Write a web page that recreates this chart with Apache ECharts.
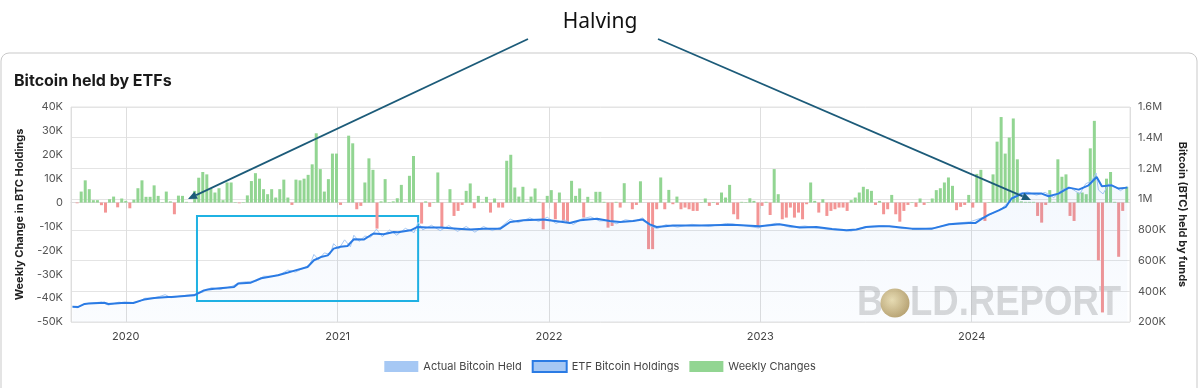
<!DOCTYPE html>
<html><head><meta charset="utf-8">
<script src="https://cdn.jsdelivr.net/npm/echarts@6/dist/echarts.min.js"></script>
<style>html,body{margin:0;padding:0;background:#fff}#c{width:1200px;height:388px}</style>
</head><body><div id="c"></div>
<script>
// ---------------- DATA ----------------
const axisStart = '2019-10-01';
const axisEnd = '2024-09-28';
const firstWeek = '2019-10-09';           // date of first weekly bar
const yearTicks = ['2020', '2021', '2022', '2023', '2024'];

// Weekly change in BTC holdings (BTC), one value per week
const weeklyChange = [
  -300, 4600, 9300, 5600, 1000, 1000, -1100, -4200, 1400, 2500,
  -2000, 1700, 700, -2400, 1200, 6000, 9300, 2400, 2400, 7200,
  2800, 200, 4600, 500, -4900, 2900, 2800, 300, 0, 4900,
  10400, 12800, 11800, 6000, 4200, 6000, 1000, 8400, 8400, 200,
  -300, 200, 3000, 9000, 12300, 10000, 5600, 3500, 5600, 2100,
  5600, 9600, 2100, -1000, 9600, 9300, 10000, 11600, 16000, 29000,
  14000, 4600, 9800, 20500, 20500,
  -1000, 0, 28000, 24800, -2800, -1400, 8400, 18500, 13700, -10900,
  500, 9800, 200, 500, 1800, 7400, 200, 11200, 19500, 0,
  -8800, 500, -1800, 200, 12600, -10500, 0, 5600, -5600, -3500,
  -1000, 4900, 8000, -2400, 2800, 300, 2400, -4200, 1700, -2100,
  -2100, 17500, 20000, 6300, 2500, 6600, 300, 2500, 5900, 300,
  -11200, 2800, 5200, -7000, 4200, -7700, -8400, 9100, 2800, 5900,
  -6300, 2400, 300, 4500, 4500,
  300, -10500, -9800, 300, -2100, 8100, 0, -2800, -1000, 8900,
  0, -19500, -19500, -2800, 10500, -2800, 5300, -700, 2500, -2800,
  -2100, -2800, -3500, -3500, 200, 1700, -1400, 200, -1000, 4200,
  2100, 7400, -4900, -7000, 300, 200, 1800, 700, -10500, -1400,
  300, -5200, 14000, 3500, -7000, -6300, -2100, -6300, -4200, -7000,
  -700, 8400, 700, -4200, 1400, -5600, -3500, -2800, -2100, -2100,
  -3500, 1000, 2100, 4200, 6600, 5600, 4900, -1000,
  700, -4900, -2800, 3200, -4900, -8000, -3500, -1000, 200, -1800,
  1700, -1000, 200, 1700, 5200, 6000, 8400, 10500, 7000, -3200,
  -1800, -1000, 3200, -2100, 12000, 13700, -7700, 200, 11800, 25500,
  35800, 20500, 27200, 35200, 18100, 500, 300, 300, 300, -5600,
  -8400, -1000, 5200, 300, 18100, 10800, 11800, -5600, -7700, 4200,
  4200, 3500, 22700, 34200, -24200, -46000, 10000, 12800, 300, -22700,
  -3500, 6600
];

// ETF Bitcoin holdings (BTC); x = days after axisStart
const holdDay = [
  0, 10, 21, 28, 55, 62, 90, 105, 119, 124, 141, 165, 171, 210, 227, 234, 245, 279, 286, 308,
  326, 355, 372, 382, 406, 417, 429, 441, 451, 463, 475, 486, 503, 515, 520, 537, 555, 562, 584, 596,
  613, 636, 665, 687, 710, 739, 756, 779, 813, 847, 859, 877, 906, 928, 946, 968, 985, 997, 1009, 1037,
  1083, 1140, 1187, 1221, 1256, 1285, 1312, 1337, 1354, 1371, 1393, 1411, 1450, 1485, 1514, 1548, 1560, 1571, 1583, 1600,
  1612, 1622, 1640, 1664, 1674, 1686, 1703, 1721, 1738, 1755, 1769, 1778, 1795, 1807, 1822
];
const holdValue = [
  300000, 298000, 318000, 320000, 325000, 317000, 326000, 324000, 341000, 346000, 356000, 363000, 363000, 374000, 406000, 411000, 417000, 428000, 450000, 456000,
  485000, 504000, 522000, 533000, 558000, 602000, 623000, 634000, 678000, 690000, 695000, 739000, 737000, 765000, 776000, 771000, 786000, 784000, 797000, 819000,
  815000, 815000, 808000, 802000, 808000, 808000, 851000, 862000, 867000, 851000, 845000, 862000, 873000, 858000, 851000, 858000, 867000, 836000, 819000, 828000,
  828000, 834000, 823000, 836000, 815000, 819000, 806000, 797000, 802000, 819000, 823000, 823000, 808000, 808000, 836000, 845000, 845000, 873000, 899000, 927000,
  949000, 1004000, 1036000, 1036000, 1036000, 1019000, 1036000, 1075000, 1062000, 1090000, 1144000, 1084000, 1090000, 1069000, 1075000
];

// Actual Bitcoin held (BTC, noisy daily readings); x = days after axisStart
const actualDay = [
  0, 8, 20, 35, 50, 62, 80, 100, 118, 125, 140, 150, 160, 170, 185, 200, 212, 226, 240, 255,
  275, 290, 300, 318, 330, 345, 360, 372, 385, 398, 410, 417, 425, 435, 445, 451, 460, 470, 480, 486,
  495, 505, 515, 525, 535, 548, 560, 575, 590, 597, 605, 620, 635, 650, 665, 680, 695, 710, 725, 740,
  756, 770, 790, 805, 820, 835, 850, 865, 880, 895, 910, 925, 940, 955, 970, 985, 997, 1010, 1025, 1045,
  1070, 1100, 1130, 1160, 1185, 1195, 1215, 1240, 1265, 1290, 1320, 1345, 1370, 1400, 1430, 1460, 1490, 1520, 1550, 1575,
  1590, 1605, 1618, 1630, 1650, 1665, 1680, 1695, 1710, 1725, 1740, 1750, 1760, 1768, 1772, 1780, 1790, 1800, 1810, 1822
];
const actualValue = [
  302000, 292000, 318000, 324000, 330000, 310000, 329000, 320000, 338000, 355000, 356000, 366000, 378000, 358000, 368000, 376000, 380000, 396000, 424000, 412000,
  432000, 458000, 462000, 468000, 498000, 498000, 512000, 538000, 525000, 548000, 572000, 640000, 606000, 650000, 640000, 710000, 676000, 735000, 690000, 765000,
  725000, 760000, 752000, 805000, 755000, 800000, 765000, 810000, 782000, 850000, 800000, 830000, 795000, 828000, 790000, 822000, 785000, 822000, 795000, 818000,
  870000, 848000, 878000, 855000, 882000, 842000, 865000, 835000, 872000, 885000, 858000, 860000, 840000, 866000, 856000, 878000, 826000, 808000, 834000, 818000,
  836000, 822000, 842000, 828000, 812000, 828000, 843000, 816000, 825000, 810000, 798000, 792000, 822000, 828000, 810000, 803000, 815000, 842000, 852000, 884000,
  908000, 940000, 985000, 1035000, 1046000, 1026000, 1044000, 1010000, 1066000, 1070000, 1034000, 1100000, 1118000, 1170000, 1060000, 1034000, 1100000, 1082000, 1055000, 1083000
];

// Highlighted period (cyan box): dates and holdings range
const boxStart = '2020-05-03', boxEnd = '2021-05-20';
const boxTop = 890000, boxBottom = 337000;

// ---------------- CHART ----------------
const DAY = 86400000;
const ts = s => Date.parse(s + 'T00:00:00Z');
const t0 = ts(axisStart);
const w0 = ts(firstWeek);
const GREEN = '#92d592', RED = '#f39595', BLUE = '#2b7be4', LIGHT = '#a6c8f4';

const barData = weeklyChange.map((v, i) => [w0 + i * 7 * DAY, v]);
const holdData = holdDay.map((d, i) => [t0 + d * DAY, holdValue[i]]);
const actualData = actualDay.map((d, i) => [t0 + d * DAY, actualValue[i]]);

const fmtK = v => v === 0 ? '0' : (v / 1000) + 'K';
const fmtR = v => v >= 1000000 ? (v / 1000000) + 'M' : (v / 1000) + 'K';
const FONT = 'Inter, "Noto Sans", sans-serif';

function arrow(x1, y1, x2, y2) {
  const ang = Math.atan2(y2 - y1, x2 - x1), L = 9, W = 4;
  const bx = x2 - L * Math.cos(ang), by = y2 - L * Math.sin(ang);
  const px = -Math.sin(ang) * W, py = Math.cos(ang) * W;
  return [
    { type: 'line', shape: { x1, y1, x2: bx, y2: by }, style: { stroke: '#1c5b79', lineWidth: 1.8 }, z: 100 },
    { type: 'polygon', shape: { points: [[x2, y2], [bx + px, by + py], [bx - px, by - py]] }, style: { fill: '#1c5b79' }, z: 100 }
  ];
}

const chart = echarts.init(document.getElementById('c'), null, { renderer: 'canvas' });
chart.setOption({
  useUTC: true,
  animation: false,
  backgroundColor: '#fff',
  title: {
    text: 'Bitcoin held by ETFs', left: 9, top: 68,
    textStyle: { fontSize: 16, fontWeight: 'bold', color: '#1a1a1a', fontFamily: FONT }
  },
  legend: {
    top: 355, left: 'center', itemWidth: 34, itemHeight: 11, itemGap: 10,
    textStyle: { fontSize: 11, color: '#444', fontFamily: FONT },
    data: [
      { name: 'Actual Bitcoin Held', icon: 'rect', itemStyle: { color: LIGHT, borderWidth: 0 } },
      { name: 'ETF Bitcoin Holdings', icon: 'rect', itemStyle: { color: LIGHT, borderColor: BLUE, borderWidth: 2 } },
      { name: 'Weekly Changes', icon: 'rect', itemStyle: { color: GREEN, borderWidth: 0 } }
    ]
  },
  grid: { left: 71, right: 70, top: 107, bottom: 66, show: true, borderColor: '#e2e2e2', borderWidth: 1 },
  xAxis: {
    type: 'time', min: ts(axisStart), max: ts(axisEnd), splitNumber: 5,
    minInterval: 365 * DAY, maxInterval: 366 * DAY,
    axisLine: { show: true, lineStyle: { color: '#dcdcdc' } },
    axisTick: { show: true, length: 6, lineStyle: { color: '#cfcfcf' } },
    splitLine: { show: true, lineStyle: { color: '#dedede' } },
    axisLabel: {
      color: '#444', fontSize: 11, fontFamily: FONT, margin: 9,
      formatter: v => { const y = String(new Date(v).getUTCFullYear()); return yearTicks.includes(y) ? y : ''; }
    }
  },
  yAxis: [
    {
      type: 'value', min: -50000, max: 40000, interval: 10000,
      name: 'Weekly Change in BTC Holdings', nameLocation: 'middle', nameGap: 40,
      nameTextStyle: { fontSize: 11, fontWeight: 'bold', color: '#222', fontFamily: FONT },
      axisLine: { show: false }, axisTick: { show: false }, splitLine: { show: false },
      axisLabel: { color: '#555', fontSize: 11, fontFamily: FONT, margin: 8, formatter: fmtK }
    },
    {
      type: 'value', min: 200000, max: 1600000, interval: 200000, position: 'right',
      name: 'Bitcoin (BTC) held by funds', nameLocation: 'middle', nameGap: 38, nameRotate: -90,
      nameTextStyle: { fontSize: 11, fontWeight: 'bold', color: '#222', fontFamily: FONT },
      axisLine: { show: false }, axisTick: { show: false },
      splitLine: { show: true, lineStyle: { color: '#e4e4e4' } },
      axisLabel: { color: '#555', fontSize: 11, fontFamily: FONT, margin: 8, formatter: fmtR }
    }
  ],
  series: [
    {
      name: 'Weekly Changes', type: 'bar', yAxisIndex: 0, barWidth: 3, z: 2,
      itemStyle: { color: p => (p.value[1] >= 0 ? GREEN : RED) },
      data: barData
    },
    {
      name: 'Actual Bitcoin Held', type: 'line', yAxisIndex: 1, showSymbol: false, z: 3,
      lineStyle: { color: LIGHT, width: 1 }, itemStyle: { color: LIGHT },
      data: actualData
    },
    {
      name: 'ETF Bitcoin Holdings', type: 'line', yAxisIndex: 1, showSymbol: false, z: 4,
      lineStyle: { color: BLUE, width: 2 }, itemStyle: { color: BLUE },
      areaStyle: {
        origin: 'start',
        color: new echarts.graphic.LinearGradient(0, 0, 0, 1, [
          { offset: 0, color: 'rgba(43,123,228,0.08)' }, { offset: 1, color: 'rgba(43,123,228,0.03)' }
        ])
      },
      markArea: {
        silent: true,
        itemStyle: { color: 'rgba(0,0,0,0)', borderColor: '#1fb2e3', borderWidth: 2 },
        data: [[{ xAxis: ts(boxStart), yAxis: boxTop }, { xAxis: ts(boxEnd), yAxis: boxBottom }]]
      },
      data: holdData
    }
  ],
  graphic: [
    { type: 'rect', shape: { x: 1, y: 53, width: 1196, height: 400, r: 8 }, style: { fill: 'none', stroke: '#c9c9c9', lineWidth: 1 }, z: -10, silent: true },
    { type: 'text', x: 600, y: 22, style: { text: 'Halving', fontSize: 21, fontFamily: '"Noto Sans", sans-serif', fill: '#111', textAlign: 'center', textVerticalAlign: 'middle' }, z: 100 },
    ...arrow(528, 39, 188, 199),
    ...arrow(658, 39, 1031, 200),
    { type: 'text', x: 857, y: 303, scaleX: 0.86, style: { text: 'B', fontSize: 42, fontWeight: 'bold', fontFamily: '"Liberation Sans", Arial, sans-serif', fill: 'rgba(170,170,170,0.45)', textVerticalAlign: 'middle' }, z: 1, silent: true },
    { type: 'circle', shape: { cx: 895, cy: 303, r: 14.5 }, style: { fill: new echarts.graphic.RadialGradient(0.4, 0.4, 0.7, [{ offset: 0, color: '#e8d8a4' }, { offset: 1, color: '#a98d50' }]), opacity: 0.85 }, z: 1, silent: true },
    { type: 'text', x: 910, y: 303, scaleX: 0.87, style: { text: 'LD.REPORT', fontSize: 42, fontWeight: 'bold', fontFamily: '"Liberation Sans", Arial, sans-serif', fill: 'rgba(170,170,170,0.45)', textVerticalAlign: 'middle' }, z: 1, silent: true }
  ]
});
</script>
</body></html>
